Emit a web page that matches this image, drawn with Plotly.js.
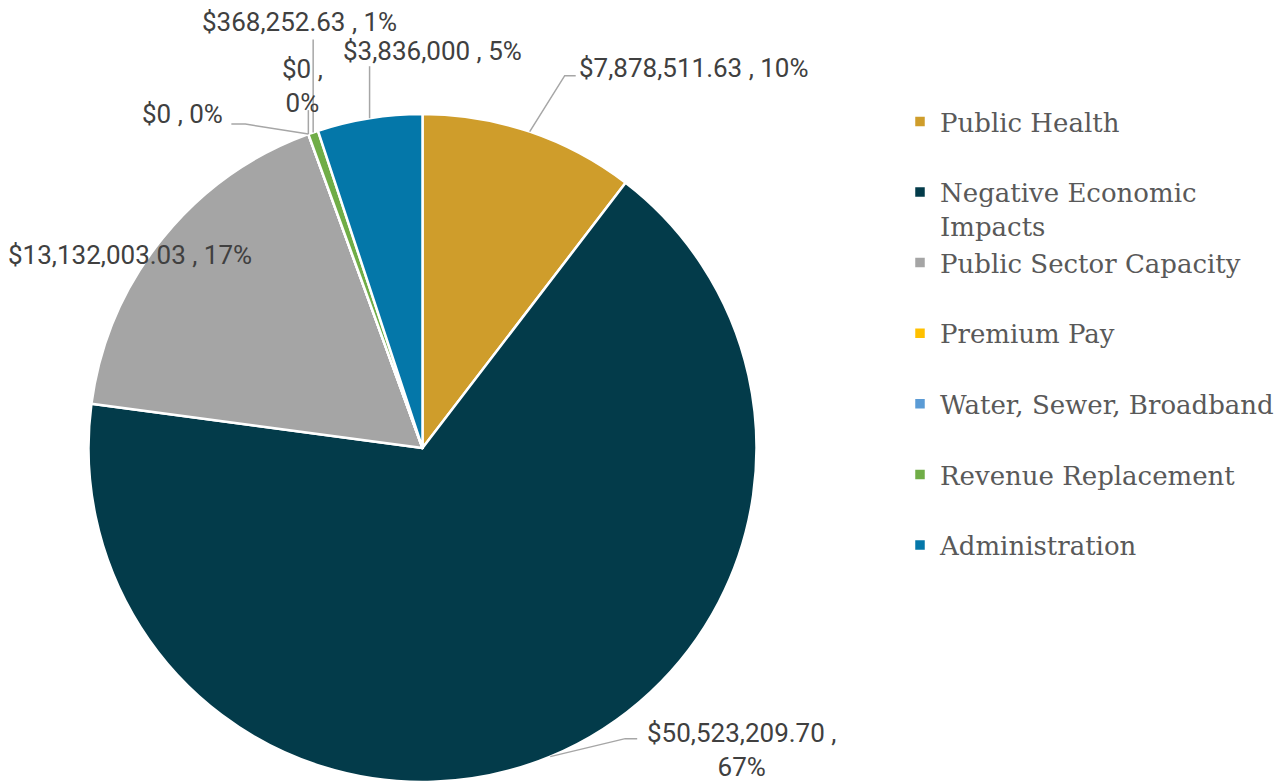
<!DOCTYPE html>
<html>
<head>
<meta charset="utf-8">
<script src="https://cdn.plot.ly/plotly-3.0.1.min.js"></script>
<style>html,body{margin:0;padding:0;background:#fff;}#chart{width:1287px;height:782px;}</style>
</head>
<body>
<div id="chart"></div>
<script>
// ---- data ----
var categories = ["Public Health", "Negative Economic Impacts", "Public Sector Capacity", "Premium Pay", "Water, Sewer, Broadband", "Revenue Replacement", "Administration"];
var amounts = [7878511.63, 50523209.70, 13132003.03, 0, 0, 368252.63, 3836000];
var amountLabels = ["$7,878,511.63", "$50,523,209.70", "$13,132,003.03", "$0", "$0", "$368,252.63", "$3,836,000"];
var percentLabels = ["10%", "67%", "17%", "0%", "0%", "1%", "5%"];

// ---- styles / layout ----
var colors = ["#CF9D2B", "#033B4A", "#A5A5A5", "#FFC000", "#5B9BD5", "#70AD47", "#0477A9"];
var W = 1287, H = 782;
var pieDomain = {x: [88 / W, 757 / W], y: [0, 668 / H]};
// label placement, in pixels relative to the slice's outer-edge midpoint
// dx,dy: text anchor offset; xa: text x anchor; br: break line; leader: elbow points of leader line
var labelPlacement = [
  {dx: 47, dy: -64, xa: "left", br: false, leader: [[35, -56], [46, -56]]},
  {dx: 191, dy: -7, xa: "center", br: true, leader: [[75, -18], [87, -18]]},
  {dx: -32, dy: 16, xa: "center", br: false, leader: null},
  {dx: -126, dy: -20, xa: "center", br: false, leader: [[-63, -10], [-77, -10]]},
  {dx: -6, dy: -48, xa: "center", br: true, leader: [[0, -24]]},
  {dx: -14, dy: -110, xa: "center", br: false, leader: [[0, -93]]},
  {dx: 63, dy: -67, xa: "center", br: false, leader: [[0, -52]]}
];

function wrapLegend(s) {
  if (s.length > 24) {
    var i = s.lastIndexOf(" ", 20);
    return s.slice(0, i) + "<br>" + s.slice(i + 1);
  }
  return s + "<br>\u00a0";
}
var legendLabels = categories.map(wrapLegend);

var trace = {
  type: "pie",
  labels: legendLabels,
  values: amounts,
  sort: false,
  direction: "clockwise",
  rotation: 0,
  domain: pieDomain,
  marker: {colors: colors, line: {color: "#ffffff", width: 2.5}},
  textinfo: "none",
  hoverinfo: "label+value+percent",
  showlegend: true
};

// geometry of the pie in pixels (derived from the domain)
var pw = (pieDomain.x[1] - pieDomain.x[0]) * W;
var ph = (pieDomain.y[1] - pieDomain.y[0]) * H;
var R = Math.min(pw, ph) / 2;
var cxPx = (pieDomain.x[0] + pieDomain.x[1]) / 2 * W;
var cyPx = H - (pieDomain.y[0] + pieDomain.y[1]) / 2 * H;
function px2x(x) { return x / W; }
function px2y(y) { return (H - y) / H; }

var total = amounts.reduce(function (a, b) { return a + b; }, 0);
var cum = 0;
var annotations = [];
var shapes = [];
amounts.forEach(function (v, i) {
  var mid = (cum + v / 2) / total * 2 * Math.PI;
  cum += v;
  var ex = cxPx + R * Math.sin(mid);
  var ey = cyPx - R * Math.cos(mid);
  var p = labelPlacement[i];
  var txt = amountLabels[i] + " ," + (p.br ? "<br>" : " ") + percentLabels[i];
  annotations.push({
    xref: "paper", yref: "paper",
    x: px2x(ex + p.dx), y: px2y(ey + p.dy),
    xanchor: p.xa, yanchor: "middle",
    showarrow: false,
    text: txt,
    font: {family: "Roboto, 'Noto Sans', sans-serif", size: 26, color: "#404040"},
    align: "center"
  });
  if (p.leader) {
    var path = "M" + px2x(ex) + "," + px2y(ey);
    p.leader.forEach(function (pt) {
      path += " L" + px2x(ex + pt[0]) + "," + px2y(ey + pt[1]);
    });
    shapes.push({
      type: "path", xref: "paper", yref: "paper", path: path,
      line: {color: "#A6A6A6", width: 1.5}, layer: "above"
    });
  }
});

var layout = {
  width: W, height: H,
  margin: {l: 0, r: 0, t: 0, b: 0},
  paper_bgcolor: "#ffffff",
  showlegend: true,
  legend: {
    x: 900 / W, xanchor: "left",
    y: 1 - 98 / H, yanchor: "top",
    valign: "top",
    font: {family: "'DejaVu Serif', serif", size: 26, color: "#595959"},
    bgcolor: "rgba(0,0,0,0)",
    borderwidth: 0
  },
  annotations: annotations,
  shapes: shapes
};

Plotly.newPlot("chart", [trace], layout, {displayModeBar: false, staticPlot: true});
</script>
</body>
</html>
